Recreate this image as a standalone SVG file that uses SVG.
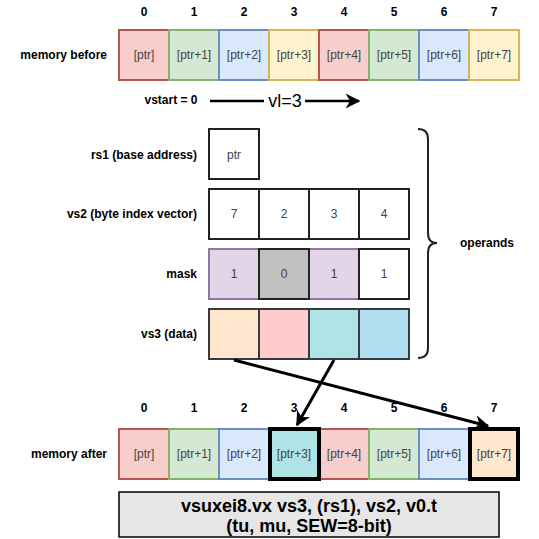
<svg xmlns="http://www.w3.org/2000/svg" width="539" height="539" viewBox="0 0 539 539">
<defs>
<style>
text{font-family:"Liberation Sans",Arial,sans-serif;}
.lbl{font-size:12px;font-weight:bold;fill:#000;}
.r{text-anchor:end;}
.c{text-anchor:middle;}
.ct{font-size:12px;fill:#444;text-anchor:middle;}
.red{fill:#f8cecc;stroke:#b85450;stroke-width:2;}
.grn{fill:#d5e8d4;stroke:#82b366;stroke-width:2;}
.blu{fill:#dae8fc;stroke:#6c8ebf;stroke-width:2;}
.yel{fill:#fff2cc;stroke:#d6b656;stroke-width:2;}
.wht{fill:#fff;stroke:#222;stroke-width:2;}
.pur{fill:#e1d5e7;stroke:#9673a6;stroke-width:2;}
.gry{fill:#c0c0c0;stroke:#222;stroke-width:2;}
.d{stroke:#36393d;stroke-width:2;}
.hl{stroke:#000;stroke-width:4;}
.conn{fill:none;stroke:#000;stroke-width:3;}
</style>
<marker id="ah" viewBox="0 0 10 10" refX="9" refY="5" markerWidth="5" markerHeight="5" orient="auto" markerUnits="strokeWidth">
<path d="M0,0 L10,5 L0,10 L3,5 Z" fill="#000"/>
</marker>
<marker id="ah2" viewBox="0 0 10 10" refX="9" refY="5" markerWidth="6" markerHeight="6" orient="auto" markerUnits="strokeWidth">
<path d="M0,0 L10,5 L0,10 L3,5 Z" fill="#000"/>
</marker>
</defs>
<rect width="539" height="539" fill="#fff"/>

<g id="idx-before" class="lbl c">
<text x="144" y="16">0</text><text x="194" y="16">1</text><text x="244" y="16">2</text><text x="294" y="16">3</text>
<text x="344" y="16">4</text><text x="394" y="16">5</text><text x="444" y="16">6</text><text x="494" y="16">7</text>
</g>
<text class="lbl r" x="107" y="59">memory before</text>
<g id="mem-before">
<rect class="red" x="119" y="30" width="50" height="50"/>
<rect class="grn" x="169" y="30" width="50" height="50"/>
<rect class="blu" x="219" y="30" width="50" height="50"/>
<rect class="yel" x="269" y="30" width="50" height="50"/>
<rect class="red" x="319" y="30" width="50" height="50"/>
<rect class="grn" x="369" y="30" width="50" height="50"/>
<rect class="blu" x="419" y="30" width="50" height="50"/>
<rect class="yel" x="469" y="30" width="50" height="50"/>
<text class="ct" x="144" y="59">[ptr]</text><text class="ct" x="194" y="59">[ptr+1]</text>
<text class="ct" x="244" y="59">[ptr+2]</text><text class="ct" x="294" y="59">[ptr+3]</text>
<text class="ct" x="344" y="59">[ptr+4]</text><text class="ct" x="394" y="59">[ptr+5]</text>
<text class="ct" x="444" y="59">[ptr+6]</text><text class="ct" x="494" y="59">[ptr+7]</text>
</g>

<g id="vl">
<text class="lbl c" x="171" y="104">vstart = 0</text>
<line x1="210" y1="101" x2="264" y2="101" stroke="#000" stroke-width="2.5"/>
<text x="285" y="107" font-size="18" text-anchor="middle" fill="#000">vl=3</text>
<line x1="305" y1="101" x2="359" y2="101" stroke="#000" stroke-width="2.5" marker-end="url(#ah2)"/>
</g>

<g id="rs1">
<text class="lbl r" x="197" y="159">rs1 (base address)</text>
<rect class="wht" x="209" y="129" width="50" height="50"/>
<text class="ct" x="234" y="159">ptr</text>
</g>
<g id="vs2">
<text class="lbl r" x="197" y="218">vs2 (byte index vector)</text>
<rect class="wht" x="209" y="189" width="50" height="50"/>
<rect class="wht" x="259" y="189" width="50" height="50"/>
<rect class="wht" x="309" y="189" width="50" height="50"/>
<rect class="wht" x="359" y="189" width="50" height="50"/>
<text class="ct" x="234" y="218">7</text><text class="ct" x="284" y="218">2</text>
<text class="ct" x="334" y="218">3</text><text class="ct" x="384" y="218">4</text>
</g>
<g id="mask">
<text class="lbl r" x="197" y="278">mask</text>
<rect class="pur" x="209" y="249" width="50" height="50"/>
<rect class="pur" x="309" y="249" width="50" height="50"/>
<rect class="wht" x="359" y="249" width="50" height="50"/>
<rect class="gry" x="259" y="249" width="50" height="50"/>
<text class="ct" x="234" y="278">1</text><text class="ct" x="284" y="278">0</text>
<text class="ct" x="334" y="278">1</text><text class="ct" x="384" y="278">1</text>
</g>
<g id="vs3">
<text class="lbl r" x="197" y="338">vs3 (data)</text>
<rect class="d" fill="#ffe6cc" x="209" y="309" width="50" height="50"/>
<rect class="d" fill="#ffcccc" x="259" y="309" width="50" height="50"/>
<rect class="d" fill="#b0e3e6" x="309" y="309" width="50" height="50"/>
<rect class="d" fill="#b1ddf0" x="359" y="309" width="50" height="50"/>
</g>
<g id="operands">
<path d="M418,129 Q428,129 428,139 L428,233 Q428,243 437,243 Q428,243 428,253 L428,348 Q428,358 418,358" fill="none" stroke="#222" stroke-width="2"/>
<text class="lbl c" x="487" y="247">operands</text>
</g>

<g id="idx-after" class="lbl c">
<text x="144" y="412">0</text><text x="194" y="412">1</text><text x="244" y="412">2</text><text x="294" y="412">3</text>
<text x="344" y="412">4</text><text x="394" y="412">5</text><text x="444" y="412">6</text><text x="494" y="412">7</text>
</g>
<text class="lbl r" x="107" y="458">memory after</text>
<g id="mem-after">
<rect class="red" x="119" y="429" width="50" height="50"/>
<rect class="grn" x="169" y="429" width="50" height="50"/>
<rect class="blu" x="219" y="429" width="50" height="50"/>
<rect class="red" x="319" y="429" width="50" height="50"/>
<rect class="grn" x="369" y="429" width="50" height="50"/>
<rect class="blu" x="419" y="429" width="50" height="50"/>
<rect class="hl" fill="#b0e3e6" x="270" y="429" width="49" height="50"/>
<rect class="hl" fill="#ffe6cc" x="470" y="429" width="48" height="50"/>
<text class="ct" x="144" y="458">[ptr]</text><text class="ct" x="194" y="458">[ptr+1]</text>
<text class="ct" x="244" y="458">[ptr+2]</text><text class="ct" x="294" y="458">[ptr+3]</text>
<text class="ct" x="344" y="458">[ptr+4]</text><text class="ct" x="394" y="458">[ptr+5]</text>
<text class="ct" x="444" y="458">[ptr+6]</text><text class="ct" x="494" y="458">[ptr+7]</text>
</g>

<g id="connectors">
<line class="conn" x1="234" y1="360" x2="488" y2="426" marker-end="url(#ah)"/>
<line class="conn" x1="334" y1="360" x2="297" y2="425" marker-end="url(#ah)"/>
</g>

<g id="instr">
<rect x="119" y="492" width="380" height="45" fill="#e6e6e6" stroke="#000" stroke-width="1.5"/>
<text x="309" y="512" font-size="18" font-weight="bold" text-anchor="middle">vsuxei8.vx vs3, (rs1), vs2, v0.t</text>
<text x="309" y="532" font-size="18" font-weight="bold" text-anchor="middle">(tu, mu, SEW=8-bit)</text>
</g>
</svg>
